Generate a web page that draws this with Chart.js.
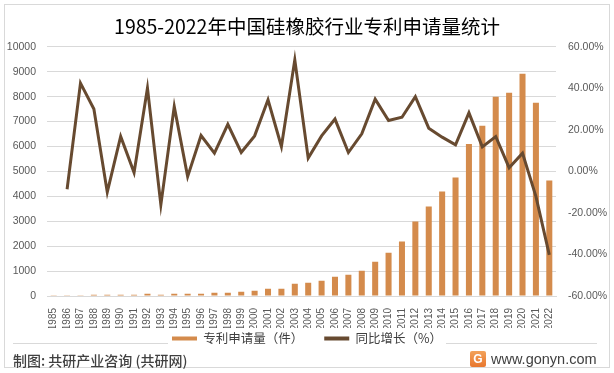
<!DOCTYPE html>
<html>
<head>
<meta charset="utf-8">
<script src="https://cdn.jsdelivr.net/npm/chart.js@4/dist/chart.umd.min.js"></script>
<style>
  body { margin: 0; background: #fff; }
  #wrap { position: relative; width: 614px; height: 373px; background: #fff; overflow: hidden; }
  #frame { position: absolute; left: 4px; top: 4px; width: 606px; height: 364px; border: 1px solid #d9d9d9; box-sizing: border-box; }
  .sep { position: absolute; top: 343px; height: 1px; background: #d9d9d9; }
  #chart { position: absolute; left: 0; top: 0; }
  #source { position: absolute; left: 13px; top: 350px; font: 500 14px "Noto Sans CJK SC", sans-serif; color: #404040; line-height: 20px; }
  #site { position: absolute; left: 491px; top: 351px; font: 14.5px "Liberation Sans", sans-serif; color: #404040; line-height: 17px; }
  #logo { position: absolute; left: 470px; top: 351px; width: 16px; height: 16px; border-radius: 2px;
          background: linear-gradient(#f3a25a, #e8772e); color: #fff; font: bold 12px "Liberation Sans", sans-serif;
          text-align: center; line-height: 16px; }
</style>
</head>
<body>
<div id="wrap">
  <div id="frame"></div>
  <div class="sep" style="left:13px;width:155px"></div>
  <div class="sep" style="left:446px;width:151px"></div>
  <canvas id="chart" width="614" height="373"></canvas>
  <div id="source">制图: 共研产业咨询 (共研网)</div>
  <div id="logo">G</div>
  <div id="site">www.gonyn.com</div>
</div>
<script>
const years = ['1985','1986','1987','1988','1989','1990','1991','1992','1993','1994',
  '1995','1996','1997','1998','1999','2000','2001','2002','2003','2004',
  '2005','2006','2007','2008','2009','2010','2011','2012','2013','2014',
  '2015','2016','2017','2018','2019','2020','2021','2022'];

// 专利申请量（件）
const applications = [10, 9, 13, 50, 50, 50, 50, 95, 50, 90,
  90, 90, 135, 135, 175, 215, 295, 295, 495, 535,
  616, 777, 857, 1018, 1379, 1740, 2182, 2985, 3588, 4190,
  4752, 6104, 6827, 7992, 8153, 8916, 7751, 4631];

// 同比增长（%）
const growth = [null, -8.6, 42.5, 30.0, -10.0, 16.8, -0.6, 40.1, -16.1, 31.2,
  -2.5, 17.3, 8.8, 22.7, 9.1, 17.1, 34.5, 12.0, 53.7, 6.4,
  17.1, 25.2, 9.1, 18.1, 34.8, 24.5, 26.1, 36.0, 20.8, 16.5,
  12.8, 28.2, 11.8, 16.8, 1.8, 8.8, -12.0, -40.2];

const barColor = '#d48b4c';
const lineColor = '#674a30';
const tickColor = '#595959';

// pull the legend up so it sits right under the year labels
const legendShift = {
  id: 'legendShift',
  beforeDraw(chart) {
    const lg = chart.legend;
    if (lg && !lg._shifted) {
      lg.top -= 16.75;
      lg.bottom -= 16.75;
      lg._shifted = true;
    }
  }
};

const ctx = document.getElementById('chart').getContext('2d');
new Chart(ctx, {
  data: {
    labels: years,
    datasets: [
      {
        type: 'line',
        label: '同比增长（%）',
        data: growth,
        yAxisID: 'y1',
        borderColor: lineColor,
        backgroundColor: lineColor,
        borderWidth: 3,
        pointRadius: 0,
        tension: 0
      },
      {
        type: 'bar',
        label: '专利申请量（件）',
        data: applications,
        yAxisID: 'y',
        backgroundColor: barColor,
        barPercentage: 0.45,
        categoryPercentage: 1
      }
    ]
  },
  plugins: [legendShift],
  options: {
    responsive: false,
    animation: false,
    layout: { padding: { left: 0, right: 0, top: 0, bottom: 1.5 } },
    plugins: {
      tooltip: { enabled: false },
      title: {
        display: true,
        text: '1985-2022年中国硅橡胶行业专利申请量统计',
        color: '#000',
        font: { family: '"Noto Sans CJK SC"', size: 19.5, weight: 'normal' },
        padding: { top: 15, bottom: 8.4 }
      },
      legend: {
        position: 'bottom',
        labels: {
          color: '#404040',
          font: { family: '"Noto Sans CJK SC"', size: 12.5 },
          boxWidth: 25,
          boxHeight: 4,
          padding: 21,
          sort: (a, b) => b.datasetIndex - a.datasetIndex,
          generateLabels: (chart) => {
            const items = Chart.defaults.plugins.legend.labels.generateLabels(chart);
            items.forEach(it => { it.lineWidth = 0; });
            return items;
          }
        }
      }
    },
    scales: {
      x: {
        grid: { display: false },
        border: { color: '#d9d9d9' },
        ticks: {
          color: tickColor,
          font: { family: '"Liberation Sans"', size: 10 },
          minRotation: 90,
          maxRotation: 90,
          autoSkip: false,
          padding: 4
        },
        afterFit: (s) => { s.height = 32; }
      },
      y: {
        position: 'left',
        min: 0,
        max: 10000,
        ticks: {
          stepSize: 1000,
          color: tickColor,
          font: { family: '"Liberation Sans"', size: 10.5 },
          padding: 11,
          callback: (v) => String(v)
        },
        grid: { color: '#d9d9d9', drawTicks: false },
        border: { display: false },
        afterFit: (s) => { s.width = 47; }
      },
      y1: {
        position: 'right',
        min: -60,
        max: 60,
        ticks: {
          stepSize: 20,
          color: tickColor,
          font: { family: '"Liberation Sans"', size: 10.5 },
          padding: 12,
          callback: (v) => v.toFixed(2) + '%'
        },
        grid: { display: false, drawTicks: false },
        border: { display: false },
        afterFit: (s) => { s.width = 58; }
      }
    }
  }
});
</script>
</body>
</html>
